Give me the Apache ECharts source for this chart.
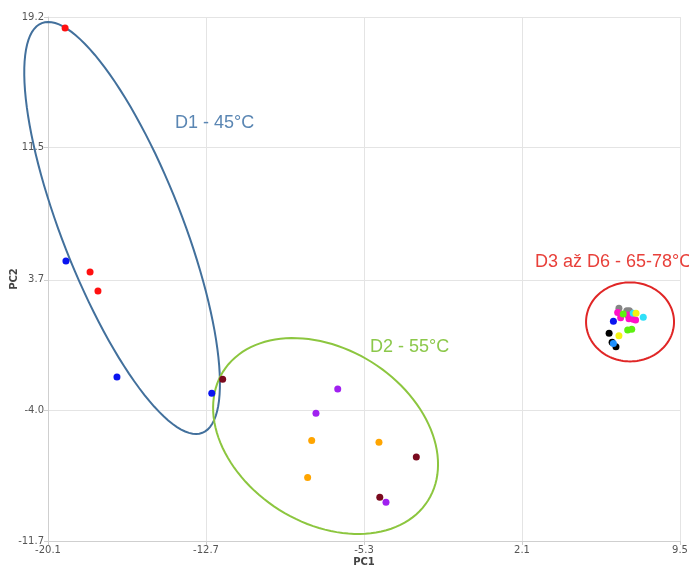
<!DOCTYPE html>
<html>
<head>
<meta charset="utf-8">
<script src="https://cdn.jsdelivr.net/npm/echarts@6/dist/echarts.min.js"></script>
<style>
  html, body { margin: 0; padding: 0; background: #fff; }
  #chart { width: 689px; height: 568px; }
</style>
</head>
<body>
<div id="chart"></div>
<script>
// Axis ticks
const xTicks = [-20.1, -12.7, -5.3, 2.1, 9.5];
const yTicks = [-11.7, -4.0, 3.7, 11.5, 19.2];

// PCA scores, grouped by sample colour [PC1, PC2]
const redPts = [[-19.30, 18.55], [-18.13, 4.16], [-17.76, 3.04]];
const bluePts = [[-19.26, 4.81], [-16.87, -2.03], [-12.43, -2.99], [6.38, 1.26]];
const darkRedPts = [[-11.92, -2.16], [-2.85, -6.74], [-4.56, -9.12]];
const purplePts = [[-6.53, -2.73], [-7.55, -4.17], [-4.27, -9.41]];
const orangePts = [[-7.75, -5.78], [-4.60, -5.88], [-7.94, -7.96]];
const grayPts = [[6.64, 2.02], [7.01, 1.88], [7.13, 1.88]];
const magentaPts = [[6.58, 1.77], [6.72, 1.47], [7.05, 1.63], [7.11, 1.40], [7.31, 1.38], [7.42, 1.33]];
const greenPts = [[6.84, 1.68], [7.05, 0.74], [7.24, 0.78]];
const cyanPts = [[7.31, 1.73], [7.78, 1.49]];
const yellowPts = [[7.44, 1.73], [6.64, 0.40]];
const blackPts = [[6.18, 0.55], [6.32, 0.02], [6.50, -0.24]];
const skyPts = [[6.38, -0.05]];

// Group outlines: centre, two conjugate semi-axes (data units), label anchor and text
const groupCentres = [[-16.63, 6.76], [-7.10, -5.51], [7.16, 1.22]];
const groupAxisU = [[-3.76, 12.08], [4.80, -3.80], [2.06, 0]];
const groupAxisV = [[2.62, 1.29], [-2.17, -4.35], [0, 2.33]];
const groupLabelPos = [[-14.15, 12.95], [-5.02, -0.26], [2.71, 4.75]];
const groupLabels = ['D1 - 45°C', 'D2 - 55°C', 'D3 až D6 - 65-78°C'];
const groupLineColors = ['#42709c', '#8cc63f', '#e02626'];
const groupTextColors = ['#5a86b3', '#8cc84b', '#e8403a'];

const chart = echarts.init(document.getElementById('chart'));

function scatter(data, color) {
  return {
    type: 'scatter',
    data: data,
    symbolSize: 7,
    itemStyle: { color: color, opacity: 1 },
    z: 3
  };
}

const axisCommon = {
  type: 'value',
  axisLine: { show: true, onZero: false, lineStyle: { color: '#cfcfcf', width: 1 } },
  axisTick: { show: true, length: 4, lineStyle: { color: '#cfcfcf' } },
  splitLine: { show: true, lineStyle: { color: '#e4e4e4', width: 1 } },
  axisLabel: {
    color: '#555',
    fontSize: 10,
    fontFamily: 'DejaVu Sans',
    formatter: v => v.toFixed(1)
  },
  nameMoveOverlap: false,
  nameTextStyle: { color: '#444', fontSize: 10, fontWeight: 'bold', fontFamily: 'DejaVu Sans' }
};

chart.setOption({
  animation: false,
  backgroundColor: '#ffffff',
  grid: { left: 48, right: 9, top: 17, bottom: 27, containLabel: false, outerBoundsMode: 'none' },
  xAxis: Object.assign({}, axisCommon, {
    min: -20.1, max: 9.5,
    name: 'PC1', nameLocation: 'middle', nameGap: 16,
    axisTick: Object.assign({}, axisCommon.axisTick, { customValues: xTicks }),
    axisLabel: Object.assign({}, axisCommon.axisLabel, { customValues: xTicks, margin: 4 })
  }),
  yAxis: Object.assign({}, axisCommon, {
    min: -11.7, max: 19.2,
    name: 'PC2', nameLocation: 'middle', nameGap: 29,
    axisTick: Object.assign({}, axisCommon.axisTick, { customValues: yTicks }),
    axisLabel: Object.assign({}, axisCommon.axisLabel, { customValues: yTicks, margin: 4 })
  }),
  series: [
    {
      type: 'custom',
      coordinateSystem: 'cartesian2d',
      data: groupCentres.map((c, i) => [c[0], c[1], i]),
      encode: { x: 0, y: 1 },
      clip: false,
      z: 2,
      renderItem: function (params, api) {
        const i = api.value(2);
        const c = groupCentres[i], u = groupAxisU[i], v = groupAxisV[i];
        const pts = [];
        const n = 120;
        for (let k = 0; k < n; k++) {
          const t = (k / n) * Math.PI * 2;
          pts.push(api.coord([
            c[0] + u[0] * Math.cos(t) + v[0] * Math.sin(t),
            c[1] + u[1] * Math.cos(t) + v[1] * Math.sin(t)
          ]));
        }
        const lp = api.coord(groupLabelPos[i]);
        return {
          type: 'group',
          children: [
            {
              type: 'polygon',
              shape: { points: pts, smooth: 0 },
              style: { fill: 'none', stroke: groupLineColors[i], lineWidth: 2 }
            },
            {
              type: 'text',
              x: lp[0], y: lp[1],
              style: {
                text: groupLabels[i],
                fill: groupTextColors[i],
                font: '18px "Liberation Sans", Arial, sans-serif',
                textAlign: 'left',
                textVerticalAlign: 'middle'
              }
            }
          ]
        };
      }
    },
    scatter(redPts, '#ff1010'),
    scatter(bluePts, '#0a14f0'),
    scatter(darkRedPts, '#7a0a1e'),
    scatter(purplePts, '#a020f0'),
    scatter(orangePts, '#ffa500'),
    scatter(grayPts, '#858585'),
    scatter(magentaPts, '#ff10c8'),
    scatter(greenPts, '#5cf010'),
    scatter(cyanPts, '#30e0f8'),
    scatter(yellowPts, '#f4f410'),
    scatter(blackPts, '#000000'),
    scatter(skyPts, '#1e90ff')
  ]
});
</script>
</body>
</html>
